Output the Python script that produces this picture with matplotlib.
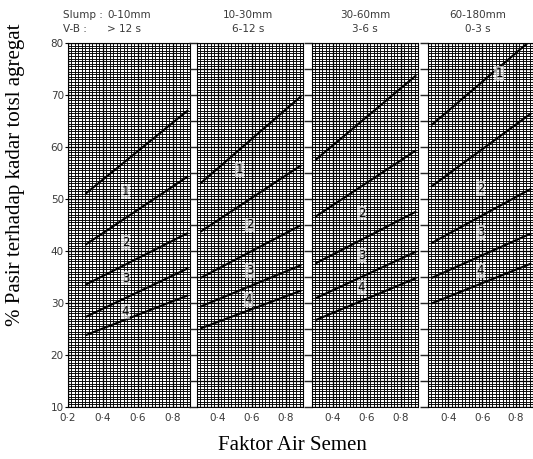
import numpy as np
import matplotlib
matplotlib.use('Agg')
import matplotlib.pyplot as plt
from matplotlib.ticker import MultipleLocator, FixedLocator, FuncFormatter

# water/cement ratio where the lines start and end
wc = [0.30, 0.89]

# percentage of sand at start/end of each boundary line (top to bottom)
slump_0_10 = [[51.0, 67.1], [41.2, 54.4], [33.5, 43.5], [27.3, 36.7], [23.8, 31.5]]
slump_10_30 = [[53.0, 69.8], [43.7, 56.5], [34.8, 45.0], [29.3, 37.3], [25.1, 32.4]]
slump_30_60 = [[57.5, 73.8], [46.6, 59.4], [37.6, 47.6], [30.9, 39.9], [26.7, 34.8]]
slump_60_180 = [[64.2, 80.6], [52.4, 66.5], [41.5, 52.0], [34.8, 43.4], [29.9, 37.6]]

headers = [("0-10mm", "> 12 s"), ("10-30mm", "6-12 s"), ("30-60mm", "3-6 s"), ("60-180mm", "0-3 s")]

# zone numbers written inside each panel: (label, x, y)
zone_labels = [
    [("1", 0.53, 51.5), ("2", 0.53, 41.7), ("3", 0.53, 34.8), ("4", 0.53, 28.3)],
    [("1", 0.53, 55.6), ("2", 0.59, 45.0), ("3", 0.59, 36.3), ("4", 0.58, 30.6)],
    [("2", 0.57, 47.3), ("3", 0.57, 39.2), ("4", 0.57, 32.9)],
    [("1", 0.70, 74.2), ("2", 0.59, 52.1), ("3", 0.59, 43.5), ("4", 0.59, 36.3)],
]

panels = [slump_0_10, slump_10_30, slump_30_60, slump_60_180]

W, H = 533, 459
fig = plt.figure(figsize=(W / 100, H / 100), dpi=100)

edges = [(68, 190), (197, 303), (312, 418), (428, 533)]
top_px, bot_px = 43, 407

fmt = FuncFormatter(lambda v, p: ("%.1f" % v).replace(".", "\u00b7"))
txt_col = "#3a3a3a"

for i, (lines, (l, r)) in enumerate(zip(panels, edges)):
    ax = fig.add_axes([l / W, (H - bot_px) / H, (r - l) / W, (bot_px - top_px) / H])
    ax.set_ylim(10, 80)
    if i == 0:
        ax.set_xlim(0.2, 0.9)
        ax.xaxis.set_major_locator(FixedLocator([0.2, 0.4, 0.6, 0.8]))
        ax.yaxis.set_major_locator(MultipleLocator(10))
        ax.tick_params(axis="y", length=2, labelsize=7.5, labelcolor=txt_col, pad=1)
    else:
        ax.set_xlim(0.28, 0.9)
        ax.xaxis.set_major_locator(FixedLocator([0.4, 0.6, 0.8]))
        ax.yaxis.set_major_locator(MultipleLocator(5))
        ax.tick_params(axis="y", length=6, width=1.0, direction="out", color="#222222", labelleft=False)
    ax.xaxis.set_major_formatter(fmt)
    ax.tick_params(axis="x", length=0, labelsize=7.5, labelcolor=txt_col, pad=4)
    ax.xaxis.set_minor_locator(MultipleLocator(0.02))
    ax.yaxis.set_minor_locator(MultipleLocator(0.5))
    ax.tick_params(which="minor", length=0)
    ax.grid(which="minor", color="#000000", linewidth=0.65)
    ax.grid(which="major", color="#000000", linewidth=0.9)
    ax.set_axisbelow(True)
    for s in ax.spines.values():
        s.set_linewidth(0.8)

    for y in lines:
        ax.plot(wc, y, color="black", linewidth=1.5, solid_capstyle="butt", zorder=3)
    for lab, x, y in zone_labels[i]:
        ax.text(x, y, lab, fontsize=8.5, color="black", ha="center", va="center", zorder=4,
                bbox=dict(boxstyle="square,pad=0.08", fc="white", ec="none", alpha=0.6))

    if i == 0:
        fig.text(63 / W, 1 - 15 / H, "Slump :", fontsize=7.5, color=txt_col, ha="left", va="center")
        fig.text(107 / W, 1 - 15 / H, headers[0][0], fontsize=7.5, color=txt_col, ha="left", va="center")
        fig.text(63 / W, 1 - 29 / H, "V-B :", fontsize=7.5, color=txt_col, ha="left", va="center")
        fig.text(107 / W, 1 - 29 / H, headers[0][1], fontsize=7.5, color=txt_col, ha="left", va="center")
    else:
        cx = [248, 365, 478][i - 1] / W
        fig.text(cx, 1 - 15 / H, headers[i][0], fontsize=7.5, color=txt_col, ha="center", va="center")
        fig.text(cx, 1 - 29 / H, headers[i][1], fontsize=7.5, color=txt_col, ha="center", va="center")

fig.text(16 / W, 1 - 175 / H, "% Pasir terhadap kadar totsl agregat", family="Liberation Serif",
         fontsize=15, rotation=90, ha="center", va="center")
fig.text(292 / W, 1 - 445 / H, "Faktor Air Semen", family="Liberation Serif",
         fontsize=15, ha="center", va="center")

fig.savefig("out.png", dpi=100)
